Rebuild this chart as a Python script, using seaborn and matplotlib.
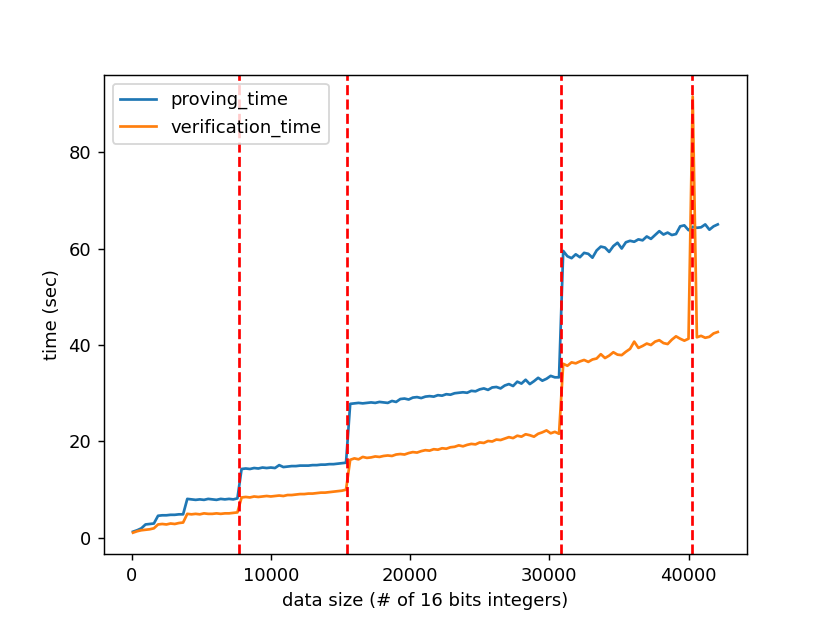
import numpy as np
import pandas as pd
import matplotlib
matplotlib.use("Agg")
import matplotlib.pyplot as plt
import seaborn as sns

# data sizes sampled every 300 integers
data_size = list(range(100, 42101, 300))

proving_time = [
    1.3, 1.6, 2.0, 2.8, 2.9, 3.0, 4.6, 4.7, 4.7, 4.8,
    4.8, 4.9, 4.9, 8.1, 8.0, 7.9, 8.0, 7.9, 8.1, 8.0,
    7.9, 8.1, 8.0, 8.1, 8.0, 8.2, 14.3, 14.4, 14.3, 14.5,
    14.4, 14.6, 14.5, 14.6, 14.5, 15.1, 14.7, 14.8, 14.9, 14.9,
    15.0, 15.0, 15.0, 15.1, 15.1, 15.2, 15.2, 15.3, 15.3, 15.4,
    15.5, 15.6, 27.8, 27.9, 28.0, 27.9, 28.0, 28.1, 28.0, 28.2,
    28.1, 28.0, 28.4, 28.2, 28.8, 28.9, 28.7, 29.1, 29.2, 29.0,
    29.3, 29.4, 29.3, 29.6, 29.5, 29.8, 29.7, 30.0, 30.1, 30.2,
    30.1, 30.5, 30.4, 30.8, 31.0, 30.7, 31.2, 31.3, 31.0, 31.6,
    31.9, 31.5, 32.4, 32.0, 32.8, 31.9, 32.5, 33.2, 32.6, 33.0,
    33.6, 33.3, 33.3, 59.5, 58.4, 58.0, 58.8, 58.2, 59.1, 58.9,
    58.1, 59.6, 60.4, 60.2, 59.3, 60.5, 61.2, 60.0, 61.3, 61.6,
    61.4, 61.9, 61.7, 62.5, 62.0, 62.8, 63.6, 62.9, 63.3, 62.8,
    63.0, 64.6, 64.8, 63.8, 64.5, 64.3, 64.4, 65.0, 63.9, 64.6,
    65.0,
]

verification_time = [
    1.1, 1.4, 1.6, 1.7, 1.8, 2.0, 2.8, 2.9, 2.8, 3.0,
    2.9, 3.1, 3.2, 5.0, 4.9, 5.0, 4.9, 5.1, 5.0, 5.0,
    5.1, 5.0, 5.1, 5.1, 5.2, 5.3, 8.4, 8.5, 8.4, 8.6,
    8.5, 8.6, 8.7, 8.6, 8.7, 8.8, 8.7, 8.9, 8.9, 9.0,
    9.1, 9.1, 9.2, 9.2, 9.3, 9.4, 9.4, 9.5, 9.6, 9.7,
    9.8, 10.0, 16.2, 16.5, 16.3, 16.8, 16.6, 16.7, 16.9, 16.8,
    17.0, 17.1, 17.0, 17.3, 17.4, 17.3, 17.6, 17.8, 17.7, 18.0,
    18.2, 18.1, 18.4, 18.3, 18.6, 18.5, 18.8, 18.9, 19.2, 19.0,
    19.3, 19.5, 19.4, 19.8, 19.7, 20.1, 20.0, 20.4, 20.3, 20.6,
    20.9, 20.7, 21.2, 21.0, 21.5, 21.3, 21.0, 21.6, 21.9, 22.3,
    21.7, 22.0, 21.6, 36.1, 35.7, 36.4, 36.2, 36.6, 36.9, 36.5,
    37.0, 37.2, 38.1, 37.3, 37.8, 38.5, 38.0, 37.9, 38.6, 39.2,
    40.7, 39.4, 39.8, 40.3, 40.0, 40.7, 41.0, 40.4, 40.2, 41.1,
    41.8, 41.3, 40.9, 41.3, 91.5, 41.6, 41.9, 41.5, 41.7, 42.4,
    42.7,
]

# circuit size boundaries
boundaries = [7690, 15470, 30860, 40245]


def main():
    df = pd.DataFrame(
        {
            "data_size": data_size,
            "proving_time": proving_time,
            "verification_time": verification_time,
        }
    )

    fig, ax = plt.subplots(figsize=(830 / 130, 623 / 130), dpi=130)

    sns.lineplot(data=df, x="data_size", y="proving_time", ax=ax,
                 color="tab:blue", label="proving_time")
    sns.lineplot(data=df, x="data_size", y="verification_time", ax=ax,
                 color="tab:orange", label="verification_time")

    for b in boundaries:
        ax.axvline(b, color="red", linestyle="--")

    ax.set_xlabel("data size (# of 16 bits integers)")
    ax.set_ylabel("time (sec)")
    ax.legend(loc="upper left")

    fig.savefig("out.png", dpi=130)


if __name__ == "__main__":
    main()
